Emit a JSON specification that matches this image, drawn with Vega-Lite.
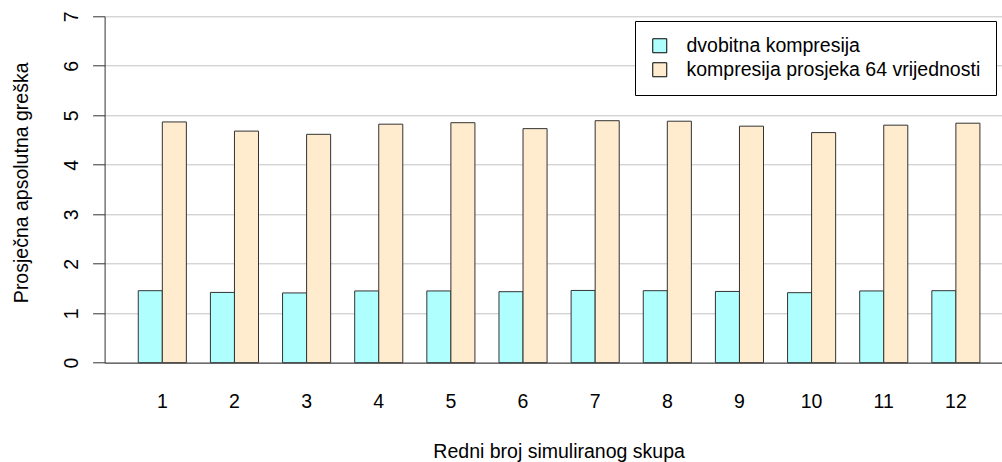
{
  "$schema": "https://vega.github.io/schema/vega-lite/v6.json",
  "autosize": {"type": "none"},
  "padding": {"left": 104.6, "top": 16.3, "right": 0, "bottom": 99.3},
  "width": 897.4,
  "height": 346.4,
  "config": {
    "font": "Liberation Sans",
    "view": {"stroke": null},
    "axis": {"labelColor": "#000", "titleColor": "#000", "titleFontWeight": "normal"}
  },
  "data": {
    "values": [
      {"skup": 1, "metoda": "dvobitna kompresija", "vrijednost": 1.455},
      {"skup": 2, "metoda": "dvobitna kompresija", "vrijednost": 1.42},
      {"skup": 3, "metoda": "dvobitna kompresija", "vrijednost": 1.41},
      {"skup": 4, "metoda": "dvobitna kompresija", "vrijednost": 1.45},
      {"skup": 5, "metoda": "dvobitna kompresija", "vrijednost": 1.45},
      {"skup": 6, "metoda": "dvobitna kompresija", "vrijednost": 1.435},
      {"skup": 7, "metoda": "dvobitna kompresija", "vrijednost": 1.46},
      {"skup": 8, "metoda": "dvobitna kompresija", "vrijednost": 1.455},
      {"skup": 9, "metoda": "dvobitna kompresija", "vrijednost": 1.44},
      {"skup": 10, "metoda": "dvobitna kompresija", "vrijednost": 1.415},
      {"skup": 11, "metoda": "dvobitna kompresija", "vrijednost": 1.45},
      {"skup": 12, "metoda": "dvobitna kompresija", "vrijednost": 1.455},
      {"skup": 1, "metoda": "kompresija prosjeka 64 vrijednosti", "vrijednost": 4.865},
      {"skup": 2, "metoda": "kompresija prosjeka 64 vrijednosti", "vrijednost": 4.68},
      {"skup": 3, "metoda": "kompresija prosjeka 64 vrijednosti", "vrijednost": 4.615},
      {"skup": 4, "metoda": "kompresija prosjeka 64 vrijednosti", "vrijednost": 4.82},
      {"skup": 5, "metoda": "kompresija prosjeka 64 vrijednosti", "vrijednost": 4.85},
      {"skup": 6, "metoda": "kompresija prosjeka 64 vrijednosti", "vrijednost": 4.73},
      {"skup": 7, "metoda": "kompresija prosjeka 64 vrijednosti", "vrijednost": 4.89},
      {"skup": 8, "metoda": "kompresija prosjeka 64 vrijednosti", "vrijednost": 4.88},
      {"skup": 9, "metoda": "kompresija prosjeka 64 vrijednosti", "vrijednost": 4.78},
      {"skup": 10, "metoda": "kompresija prosjeka 64 vrijednosti", "vrijednost": 4.65},
      {"skup": 11, "metoda": "kompresija prosjeka 64 vrijednosti", "vrijednost": 4.80},
      {"skup": 12, "metoda": "kompresija prosjeka 64 vrijednosti", "vrijednost": 4.84}
    ]
  },
  "mark": {"type": "bar", "stroke": "#333333", "strokeWidth": 1},
  "encoding": {
    "x": {
      "field": "skup",
      "type": "ordinal",
      "scale": {"type": "band", "range": [0, 909], "paddingInner": 0.3333, "paddingOuter": 0.4667},
      "axis": {
        "title": "Redni broj simuliranog skupa",
        "labelAngle": 0,
        "ticks": false,
        "domain": true,
        "domainColor": "#333333",
        "domainWidth": 1,
        "labelFontSize": 19.5,
        "labelBaseline": "alphabetic",
        "labelPadding": 45,
        "titleFontSize": 19.5,
        "titleBaseline": "alphabetic",
        "titleAlign": "center",
        "titleX": 454,
        "titleY": 95
      }
    },
    "xOffset": {"field": "metoda", "type": "nominal", "scale": {"paddingInner": 0, "paddingOuter": 0}},
    "y": {
      "field": "vrijednost",
      "type": "quantitative",
      "scale": {"domain": [0, 7], "nice": false, "zero": true},
      "axis": {
        "title": "Prosječna apsolutna greška",
        "values": [0, 1, 2, 3, 4, 5, 6, 7],
        "grid": true,
        "gridColor": "#c4c4c4",
        "gridWidth": 1,
        "tickSize": 12,
        "tickColor": "#333333",
        "domainColor": "#333333",
        "labelAngle": 270,
        "labelAlign": "center",
        "labelBaseline": "alphabetic",
        "labelPadding": 15,
        "labelFontSize": 19.5,
        "titleFontSize": 19.5,
        "titleAngle": 270,
        "titleAlign": "center",
        "titleBaseline": "alphabetic",
        "titleX": -77,
        "titleY": 166
      }
    },
    "color": {
      "field": "metoda",
      "type": "nominal",
      "scale": {"range": ["#AFFFFF", "#FFEBCD"]},
      "legend": {
        "title": null,
        "orient": "none",
        "legendX": 530.4,
        "legendY": 4.7,
        "fillColor": "#ffffff",
        "strokeColor": "#000000",
        "padding": 15,
        "rowPadding": 3,
        "symbolType": "square",
        "symbolSize": 196,
        "symbolStrokeColor": "#000000",
        "symbolStrokeWidth": 1,
        "labelFontSize": 19.5,
        "labelLimit": 0,
        "labelOffset": 17,
        "labelColor": "#000000"
      }
    }
  }
}
